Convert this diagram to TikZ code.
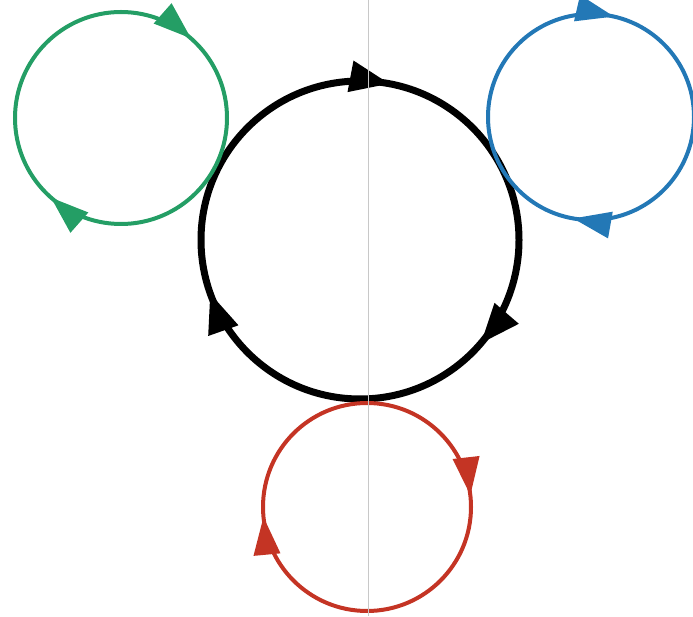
\documentclass[tikz,border=0pt]{standalone}
\usetikzlibrary{arrows.meta,decorations.markings}
\definecolor{cgreen}{RGB}{36,158,101}
\definecolor{cblue}{RGB}{35,120,182}
\definecolor{cred}{RGB}{196,52,36}
\definecolor{cgray}{RGB}{200,200,200}
\begin{document}
\begin{tikzpicture}[x=1pt,y=1pt,
  bigloop/.style={draw=black,line width=7pt},
  smallloop/.style={line width=4pt}
]
\useasboundingbox (0,0) rectangle (693,616);
\coordinate (bc) at (360,376);
\coordinate (gc) at (121,498);
\coordinate (uc) at (591,499);
\coordinate (rc) at (367,109);
% black big loop (clockwise)
\draw[bigloop,postaction={decorate,decoration={markings,
   mark=at position 0.03 with {\arrow{Triangle[length=40pt,width=30pt]}},
   mark=at position 0.363 with {\arrow{Triangle[length=40pt,width=30pt]}},
   mark=at position 0.696 with {\arrow{Triangle[length=40pt,width=30pt]}}}}]
  (bc) ++(90:159) arc[start angle=90,end angle=-270,radius=159];
% green loop
\draw[smallloop,draw=cgreen,postaction={decorate,decoration={markings,
   mark=at position 0.115 with {\arrow[cgreen]{Triangle[length=38pt,width=26pt]}},
   mark=at position 0.615 with {\arrow[cgreen]{Triangle[length=38pt,width=26pt]}}}}]
  (gc) ++(90:106) arc[start angle=90,end angle=-270,radius=106];
% blue loop
\draw[smallloop,draw=cblue,postaction={decorate,decoration={markings,
   mark=at position 0.036 with {\arrow[cblue]{Triangle[length=38pt,width=26pt]}},
   mark=at position 0.528 with {\arrow[cblue]{Triangle[length=38pt,width=26pt]}}}}]
  (uc) ++(90:103) arc[start angle=90,end angle=-270,radius=103];
% red loop
\draw[smallloop,draw=cred,postaction={decorate,decoration={markings,
   mark=at position 0.232 with {\arrow[cred]{Triangle[length=38pt,width=26pt]}},
   mark=at position 0.735 with {\arrow[cred]{Triangle[length=38pt,width=26pt]}}}}]
  (rc) ++(90:104) arc[start angle=90,end angle=-270,radius=104];
% thin vertical guide
\coordinate (gtop) at (368,616);
\coordinate (gbot) at (368,0);
\draw[cgray,line width=0.8pt] (gtop) -- (gbot);
\end{tikzpicture}
\end{document}
